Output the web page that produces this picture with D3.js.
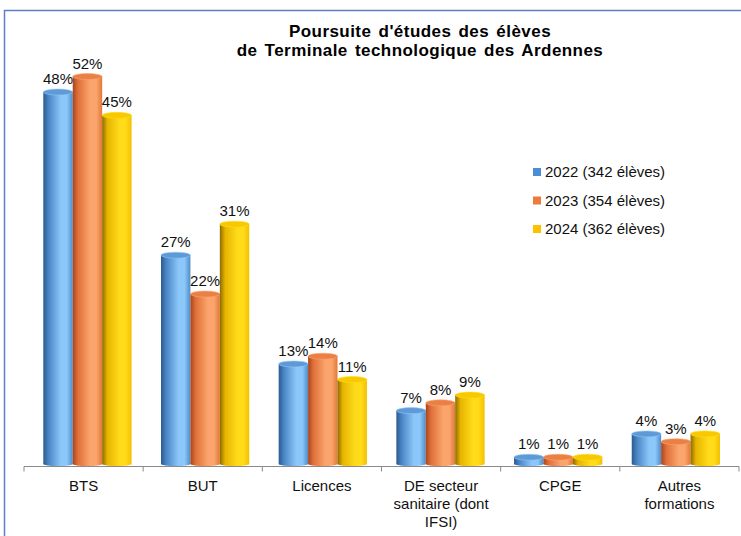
<!DOCTYPE html>
<html><head><meta charset="utf-8">
<script src="https://cdn.jsdelivr.net/npm/d3@7"></script>
<style>
html,body{margin:0;padding:0;background:#fff;}
svg{display:block;font-family:"Liberation Sans",Arial,sans-serif;}
</style></head>
<body>
<svg id="chart" width="741" height="536"></svg>
<script>
const categories = [["BTS"],["BUT"],["Licences"],["DE secteur","sanitaire (dont","IFSI)"],["CPGE"],["Autres","formations"]];
const seriesNames = ["2022 (342 élèves)","2023 (354 élèves)","2024 (362 élèves)"];
const values2022 = [48,27,13,7,1,4];
const values2023 = [52,22,14,8,1,3];
const values2024 = [45,31,11,9,1,4];
const titleLines = ["Poursuite d'études des élèves","de Terminale technologique des Ardennes"];
const yMax = 50;

const seriesValues = [values2022, values2023, values2024];
const colors = [
  {dark:"#2b5a8e", mid:"#4a86c6", light:"#8cc7fa", edge:"#4f8cc9", cap:"#5f9ad6"},
  {dark:"#a6461b", mid:"#e0703a", light:"#fba56d", edge:"#e27838", cap:"#ea8046"},
  {dark:"#8c6b00", mid:"#e7b400", light:"#ffdb1a", edge:"#f2c000", cap:"#f8c800"}
];
const legendColors = ["#4a8fd6","#ef7a3c","#ffc000"];

const svg = d3.select("#chart");
const defs = svg.append("defs");
colors.forEach((c,i)=>{
  const g = defs.append("linearGradient").attr("id","grad"+i).attr("x1","0").attr("x2","1").attr("y1","0").attr("y2","0");
  [[0,c.dark],[0.18,c.mid],[0.6,c.light],[0.8,c.light],[1,c.edge]].forEach(s=>g.append("stop").attr("offset",s[0]).attr("stop-color",s[1]));
});

// frame
svg.append("path").attr("d","M4.5,536 L4.5,10.5 L741,10.5").attr("fill","none").attr("stroke","#5b7fc8").attr("stroke-width",1.5);

// title
const title = svg.append("text").attr("text-anchor","middle").attr("font-weight","bold").attr("font-size",17)
  .attr("letter-spacing",0.45).attr("word-spacing",2).attr("fill","#000");
titleLines.forEach((t,i)=>title.append("tspan").attr("x",420).attr("y",37+i*18.5).text(t));

const catIdx = d3.range(categories.length);
const xAxisScale = d3.scaleBand().domain(catIdx).range([24,739]);
const xBars = d3.scaleBand().domain(catIdx).range([28.6,734.7]).paddingInner(0.25).paddingOuter(0.125);
const xSub = d3.scaleBand().domain(d3.range(seriesNames.length)).range([0,xBars.bandwidth()]);
const y = d3.scaleLinear().domain([0,yMax]).range([465,76.5]).clamp(true);

const ry = 3;
const gBars = svg.append("g");
seriesValues.forEach((vals,si)=>{
  const g = gBars.append("g");
  vals.forEach((v,ci)=>{
    const x0 = xBars(ci)+xSub(si);
    const w = xSub.bandwidth();
    const yt = y(v), yb = y(0)-1;
    g.append("rect").attr("x",x0).attr("y",yt).attr("width",w).attr("height",Math.max(0,yb-yt)).attr("fill","url(#grad"+si+")");
    g.append("ellipse").attr("cx",x0+w/2).attr("cy",yb).attr("rx",w/2).attr("ry",ry-1).attr("fill","url(#grad"+si+")");
    g.append("ellipse").attr("cx",x0+w/2).attr("cy",yt).attr("rx",w/2).attr("ry",ry).attr("fill",colors[si].cap).attr("stroke",colors[si].light).attr("stroke-width",0.6);
    svg.append("text").attr("x",x0+w/2).attr("y",yt-ry-5).attr("text-anchor","middle").attr("font-size",15).attr("fill","#111").text(v+"%");
  });
});

// axis
const axisY = 466.5;
svg.append("line").attr("x1",xAxisScale.range()[0]).attr("x2",xAxisScale.range()[1]).attr("y1",axisY).attr("y2",axisY).attr("stroke","#8a8a8a").attr("stroke-width",1);
const tickXs = catIdx.map(i=>xAxisScale(i)).concat([xAxisScale.range()[1]]);
svg.selectAll(".tick").data(tickXs).enter().append("line").attr("x1",d=>d).attr("x2",d=>d).attr("y1",axisY).attr("y2",axisY+5).attr("stroke","#8a8a8a");
categories.forEach((lines,i)=>{
  const t = svg.append("text").attr("text-anchor","middle").attr("font-size",15).attr("fill","#111");
  lines.forEach((l,j)=>t.append("tspan").attr("x",xAxisScale(i)+xAxisScale.bandwidth()/2).attr("y",491+j*18).text(l));
});

// legend
const leg = svg.append("g");
seriesNames.forEach((n,i)=>{
  leg.append("rect").attr("x",533).attr("y",168+i*28.5).attr("width",8).attr("height",8).attr("fill",legendColors[i]);
  leg.append("text").attr("x",545).attr("y",177+i*28.5).attr("font-size",15).attr("fill","#111").text(n);
});
</script>
</body></html>
